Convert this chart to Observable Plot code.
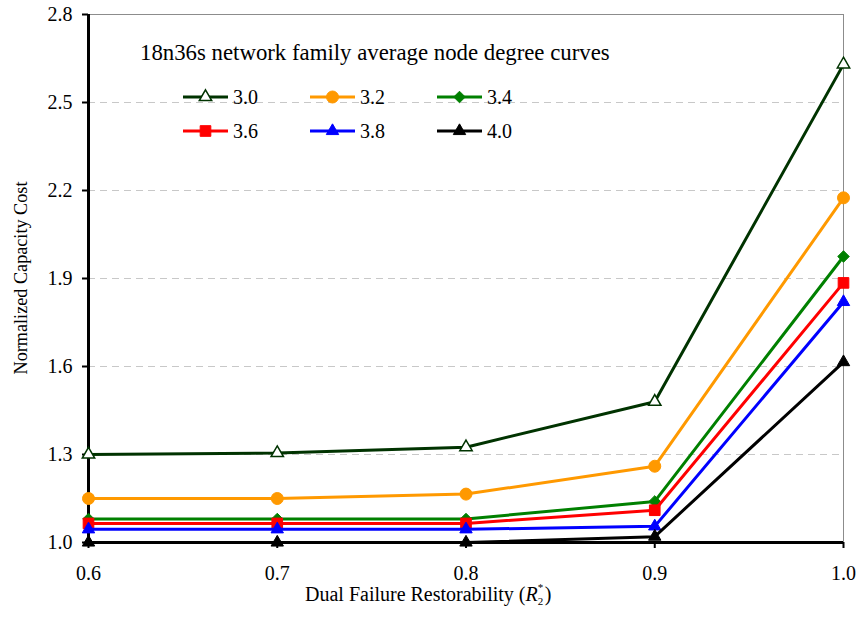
<!DOCTYPE html>
<html>
<head>
<meta charset="utf-8">
<script src="https://cdn.jsdelivr.net/npm/d3@7"></script>
<script src="https://cdn.jsdelivr.net/npm/@observablehq/plot@0.6"></script>
<style>
  body { margin: 0; background: #fff; }
  #chart { position: relative; width: 859px; height: 624px; }
  #chart svg { position: absolute; left: 0; top: 0; }
</style>
</head>
<body>
<div id="chart"></div>
<script>
// Average node degree of each network in the family
const degrees = ["3.0", "3.2", "3.4", "3.6", "3.8", "4.0"];
// Dual failure restorability target R2*
const restorability = [0.6, 0.7, 0.8, 0.9, 1.0];
// Normalized capacity cost per degree, one value per restorability level
const cost30 = [1.30, 1.305, 1.325, 1.48, 2.63];
const cost32 = [1.15, 1.15, 1.165, 1.26, 2.175];
const cost34 = [1.08, 1.08, 1.08, 1.14, 1.975];
const cost36 = [1.065, 1.065, 1.065, 1.11, 1.885];
const cost38 = [1.045, 1.045, 1.045, 1.055, 1.82];
const cost40 = [1.0, 1.0, 1.0, 1.02, 1.615];
const yTicks = [1.0, 1.3, 1.6, 1.9, 2.2, 2.5, 2.8];
const xTicks = [0.6, 0.7, 0.8, 0.9, 1.0];

const costs = [cost30, cost32, cost34, cost36, cost38, cost40];

// Drawing style of each series
const seriesStyle = {
  "3.0": { color: "#003300", symbol: "triangle", r: 4.6, fill: "white", sw: 1.5 },
  "3.2": { color: "#ff9900", symbol: "circle",   r: 6,   fill: null,    sw: 1 },
  "3.4": { color: "#008000", symbol: "diamond2", r: 5.2, fill: null,    sw: 1 },
  "3.6": { color: "#ff0000", symbol: "square",   r: 6,   fill: null,    sw: 1 },
  "3.8": { color: "#0000ff", symbol: "triangle", r: 4.6, fill: null,    sw: 1 },
  "4.0": { color: "#000000", symbol: "triangle", r: 4.6, fill: null,    sw: 1 }
};

const serif = "'Liberation Serif', 'Times New Roman', serif";

const rows = [];
degrees.forEach((deg, i) => {
  restorability.forEach((x, j) => rows.push({ degree: deg, r2: x, cost: costs[i][j] }));
});

const seriesMarks = degrees.flatMap(deg => {
  const s = seriesStyle[deg];
  const data = rows.filter(d => d.degree === deg);
  return [
    Plot.line(data, { x: "r2", y: "cost", stroke: s.color, strokeWidth: 3 }),
    Plot.dot(data, {
      x: "r2", y: "cost", symbol: () => s.symbol, r: s.r,
      fill: s.fill || s.color, stroke: s.color, strokeWidth: s.sw
    })
  ];
});

const chart = Plot.plot({
  width: 859,
  height: 624,
  marginTop: 14,
  marginRight: 16,
  marginBottom: 82,
  marginLeft: 88,
  style: { fontFamily: serif, fontSize: "20px", color: "black", background: "white", fontVariant: "normal" },
  x: { domain: [restorability[0], restorability[restorability.length - 1]] },
  y: { domain: [yTicks[0], yTicks[yTicks.length - 1]] },
  symbol: { type: "identity" },
  marks: [
    Plot.ruleY(yTicks.slice(1, -1), { stroke: "#c8c8c8", strokeDasharray: "7,5" }),
    Plot.frame({ stroke: "#8c8c8c" }),
    Plot.axisX(xTicks, { tickFormat: d3.format(".1f"), tickSize: 6, tickPadding: 17, fontSize: 20, fontFamily: serif, label: null, strokeWidth: 2 }),
    Plot.axisY(yTicks, { tickFormat: d3.format(".1f"), tickSize: 6, tickPadding: 10, fontSize: 20, fontFamily: serif, label: null, strokeWidth: 2 }),
    Plot.ruleX([restorability[0]], { stroke: "black", strokeWidth: 3 }),
    Plot.ruleY([yTicks[0]], { stroke: "black", strokeWidth: 3 }),
    ...seriesMarks
  ]
});

const root = document.getElementById("chart");
root.appendChild(chart);

// Title, legend and axis titles on top of the plot
const ov = d3.select(root).append("svg")
  .attr("width", 859).attr("height", 624)
  .style("pointer-events", "none")
  .attr("font-family", serif);

ov.append("text")
  .attr("x", 140).attr("y", 60)
  .attr("font-size", 22.8)
  .text("18n36s network family average node degree curves");

const d3Symbols = {
  triangle: d3.symbolTriangle, circle: d3.symbolCircle,
  diamond2: d3.symbolDiamond2, square: d3.symbolSquare
};

degrees.forEach((deg, i) => {
  const s = seriesStyle[deg];
  const col = i % 3, row = Math.floor(i / 3);
  const x0 = 183 + col * 127, y0 = 97 + row * 34;
  const g = ov.append("g");
  g.append("line")
    .attr("x1", x0).attr("x2", x0 + 45).attr("y1", y0).attr("y2", y0)
    .attr("stroke", s.color).attr("stroke-width", 3);
  g.append("path")
    .attr("transform", `translate(${x0 + 22.5},${y0})`)
    .attr("d", d3.symbol(d3Symbols[s.symbol], Math.PI * s.r * s.r)())
    .attr("fill", s.fill || s.color).attr("stroke", s.color).attr("stroke-width", s.sw);
  g.append("text")
    .attr("x", x0 + 50).attr("y", y0 + 7)
    .attr("font-size", 20)
    .text(deg);
});

// y axis title
ov.append("text")
  .attr("transform", "translate(27,278) rotate(-90)")
  .attr("text-anchor", "middle")
  .attr("font-size", 18.2)
  .text("Normalized Capacity Cost");

// x axis title with R2* symbol (subscript 2 under superscript *)
const xt = ov.append("text").attr("x", 305).attr("y", 601).attr("font-size", 20);
xt.append("tspan").text("Dual Failure Restorability (");
xt.append("tspan").attr("font-style", "italic").text("R");
xt.append("tspan").attr("font-size", 11).attr("dy", 4).text("2");
xt.append("tspan").attr("font-size", 11).attr("dx", -5.5).attr("dy", -14).text("*");
xt.append("tspan").attr("dy", 10).attr("dx", 1.5).text(")");
</script>
</body>
</html>
